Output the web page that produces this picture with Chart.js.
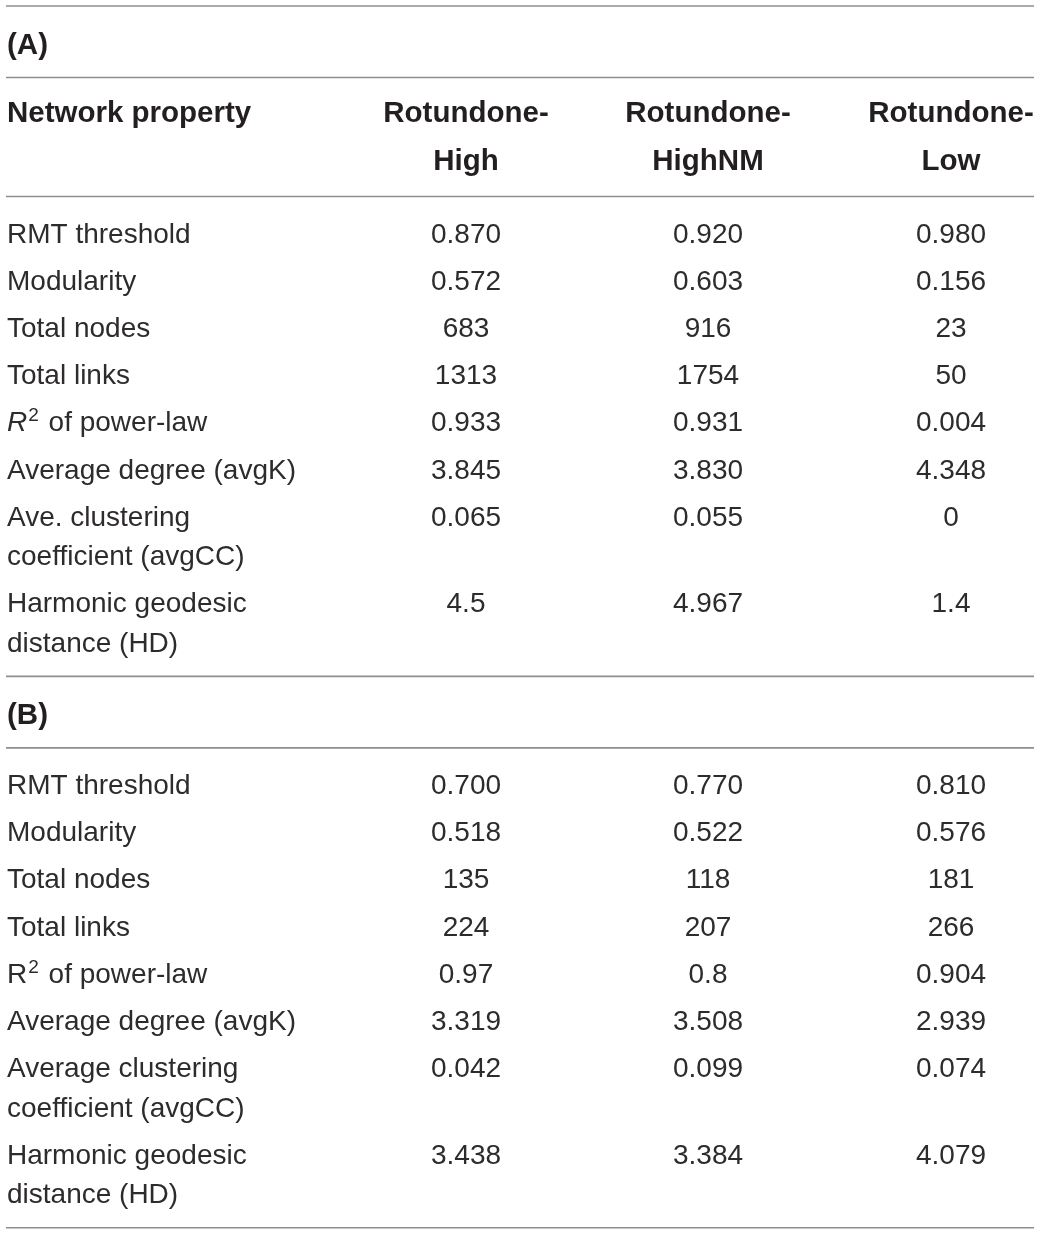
<!DOCTYPE html>
<html lang="en">
<head>
<meta charset="UTF-8">
<title>Network properties</title>
<script src="https://cdn.jsdelivr.net/npm/chart.js"></script>
<style>
  html, body { margin: 0; padding: 0; background: #fff; }
  #wrap { width: 1040px; height: 1235px; }
</style>
</head>
<body>
<div id="wrap"><canvas id="tableChart" width="1040" height="1235"></canvas></div>
<script>
// --- table content ---
// *text* = italic, ^text^ = superscript, \n = line break inside a cell
const headerLabel = 'Network property';
const groupNames = ['Rotundone-\nHigh', 'Rotundone-\nHighNM', 'Rotundone-\nLow'];

const titleA = '(A)';
const propertiesA = ['RMT threshold', 'Modularity', 'Total nodes', 'Total links', '*R*^2^ of power-law',
    'Average degree (avgK)', 'Ave. clustering\ncoefficient (avgCC)', 'Harmonic geodesic\ndistance (HD)'];
const highA   = ['0.870', '0.572', '683', '1313', '0.933', '3.845', '0.065', '4.5'];
const highNMA = ['0.920', '0.603', '916', '1754', '0.931', '3.830', '0.055', '4.967'];
const lowA    = ['0.980', '0.156', '23', '50', '0.004', '4.348', '0', '1.4'];

const titleB = '(B)';
const propertiesB = ['RMT threshold', 'Modularity', 'Total nodes', 'Total links', 'R^2^ of power-law',
    'Average degree (avgK)', 'Average clustering\ncoefficient (avgCC)', 'Harmonic geodesic\ndistance (HD)'];
const highB   = ['0.700', '0.518', '135', '224', '0.97', '3.319', '0.042', '3.438'];
const highNMB = ['0.770', '0.522', '118', '207', '0.8', '3.508', '0.099', '3.384'];
const lowB    = ['0.810', '0.576', '181', '266', '0.904', '2.939', '0.074', '4.079'];

// --- layout (in scale units) ---
const LABEL_X = 7;
const COL_X = [466, 708, 951];
const RULE_X = [6, 1034];
const TOP_RULE = 6;
const TITLE_BASE = 48, TITLE_AFTER = 23.5;
const HEAD_BASE = 44, HEAD_LINE = 48.5, HEAD_AFTER = 26.5;
const BODY_BASE = 46, ROW_STEP = 47.2, LINE_STEP = 39.5, BODY_AFTER = 24.5;

const FAMILY = '"Liberation Sans", Arial, sans-serif';
const SIZE = 28, BOLD_SIZE = 29.5;
const TEXT_COLOR = '#231f20';
const BODY_COLOR = '#2e2b2c';
const RULE_COLOR = '#8f8f8f';

const sections = [
    { title: titleA, header: true, props: propertiesA, cols: [highA, highNMA, lowA] },
    { title: titleB, header: false, props: propertiesB, cols: [highB, highNMB, lowB] }
];

const textPoints = [];
const ruleYs = [TOP_RULE];
let y = TOP_RULE;
sections.forEach(sec => {
    y += TITLE_BASE;
    textPoints.push({ x: LABEL_X, y: y, text: sec.title, bold: true, align: 'left' });
    y += TITLE_AFTER;
    ruleYs.push(y);
    if (sec.header) {
        y += HEAD_BASE;
        textPoints.push({ x: LABEL_X, y: y, text: headerLabel, bold: true, align: 'left' });
        groupNames.forEach((g, c) => {
            g.split('\n').forEach((ln, k) => {
                textPoints.push({ x: COL_X[c], y: y + k * HEAD_LINE, text: ln, bold: true, align: 'center' });
            });
        });
        y += HEAD_LINE + HEAD_AFTER;
        ruleYs.push(y);
    }
    y += BODY_BASE;
    sec.props.forEach((p, r) => {
        if (r > 0) y += ROW_STEP;
        const lines = p.split('\n');
        lines.forEach((ln, k) => {
            textPoints.push({ x: LABEL_X, y: y + k * LINE_STEP, text: ln, bold: false, align: 'left' });
        });
        sec.cols.forEach((col, c) => {
            textPoints.push({ x: COL_X[c], y: y, text: col[r], bold: false, align: 'center' });
        });
        y += (lines.length - 1) * LINE_STEP;
    });
    y += BODY_AFTER;
    ruleYs.push(y);
});

// split "*R*^2^ of" into styled pieces
function parseRich(str) {
    const parts = [];
    str.split(/(\*[^*]+\*|\^[^^]+\^)/).forEach(tok => {
        if (!tok) return;
        if (tok[0] === '*') parts.push({ t: tok.slice(1, -1), italic: true });
        else if (tok[0] === '^') parts.push({ t: tok.slice(1, -1), sup: true });
        else parts.push({ t: tok });
    });
    return parts;
}

function drawRich(ctx, str, x, yy, align, bold) {
    const size = bold ? BOLD_SIZE : SIZE;
    const weight = bold ? 'bold' : 'normal';
    const parts = parseRich(str);
    parts.forEach(p => {
        const s = p.sup ? Math.round(size * 0.68) : size;
        p.font = (p.italic ? 'italic ' : '') + weight + ' ' + s + 'px ' + FAMILY;
        ctx.font = p.font;
        p.w = ctx.measureText(p.t).width + (p.sup ? 3 : 0);
    });
    const total = parts.reduce((a, p) => a + p.w, 0);
    let cx = align === 'center' ? x - total / 2 : x;
    ctx.fillStyle = bold ? TEXT_COLOR : BODY_COLOR;
    ctx.textAlign = 'left';
    ctx.textBaseline = 'alphabetic';
    parts.forEach(p => {
        ctx.font = p.font;
        ctx.fillText(p.t, cx + (p.sup ? 1 : 0), p.sup ? yy - size * 0.36 : yy);
        cx += p.w;
    });
}

const tableText = {
    id: 'tableText',
    afterDatasetsDraw(chart) {
        const ctx = chart.ctx;
        chart.data.datasets.forEach((ds, i) => {
            if (!ds.isText) return;
            const meta = chart.getDatasetMeta(i);
            ctx.save();
            meta.data.forEach((pt, j) => {
                const d = ds.data[j];
                drawRich(ctx, d.text, pt.x, pt.y, d.align, d.bold);
            });
            ctx.restore();
        });
    }
};

const datasets = ruleYs.map(ry => ({
    type: 'line',
    data: [{ x: RULE_X[0], y: ry }, { x: RULE_X[1], y: ry }],
    borderColor: RULE_COLOR,
    borderWidth: 1.6,
    pointRadius: 0,
    clip: false
}));
datasets.push({
    type: 'scatter',
    isText: true,
    data: textPoints,
    pointRadius: 0,
    clip: false
});

new Chart(document.getElementById('tableChart'), {
    type: 'scatter',
    data: { datasets: datasets },
    options: {
        responsive: false,
        animation: false,
        events: [],
        layout: { padding: 0 },
        plugins: { legend: { display: false }, tooltip: { enabled: false } },
        scales: {
            x: { type: 'linear', min: 0, max: 1040, display: false },
            y: { type: 'linear', min: 0, max: 1235, reverse: true, display: false }
        }
    },
    plugins: [tableText]
});
</script>
</body>
</html>
